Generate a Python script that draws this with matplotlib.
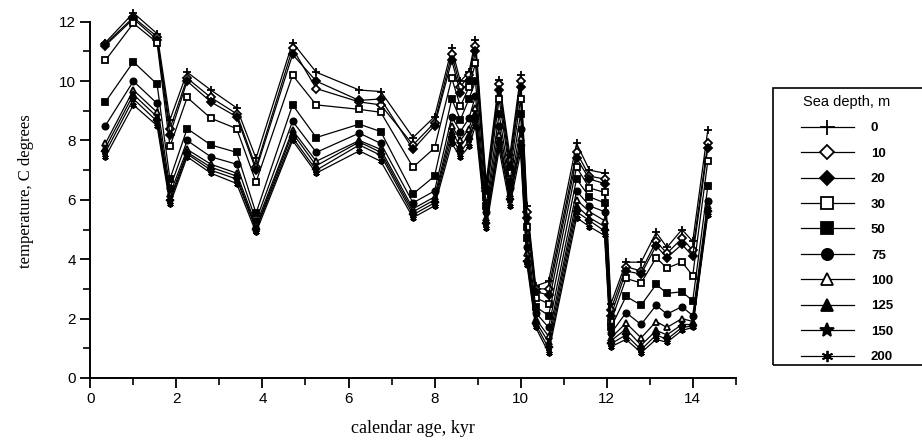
import numpy as np
import matplotlib
matplotlib.use("Agg")
import matplotlib.pyplot as plt
from matplotlib.patches import Rectangle

# calendar age, kyr (sample positions)
age = [0.35, 1.0, 1.55, 1.85, 2.25, 2.8, 3.4, 3.85, 4.7, 5.25, 6.25, 6.75, 7.5, 8.0,
       8.4, 8.6, 8.8, 8.95, 9.2, 9.5, 9.75, 10.0, 10.15, 10.35, 10.65, 11.3, 11.6, 11.95,
       12.1, 12.45, 12.8, 13.15, 13.4, 13.75, 14.0, 14.35]

depths = ['0', '10', '20', '30', '50', '75', '100', '125', '150', '200']

t_0 = [11.3, 12.3, 11.6, 8.7, 10.3, 9.7, 9.1, 7.4, 11.3, 10.3, 9.7, 9.65, 8.1, 8.8,
       11.1, 10.0, 10.3, 11.4, 6.6, 10.05, 7.5, 10.2, 5.8, 3.1, 3.25, 7.9, 7.0, 6.9,
       2.5, 3.9, 3.9, 4.9, 4.4, 5.0, 4.6, 8.35]
t_10 = [11.25, 12.15, 11.5, 8.4, 10.1, 9.45, 8.9, 7.1, 11.1, 9.75, 9.3, 9.2, 7.85, 8.6,
        10.9, 9.8, 10.2, 11.2, 6.4, 9.9, 7.3, 10.0, 5.6, 3.0, 3.0, 7.6, 6.8, 6.7,
        2.3, 3.75, 3.6, 4.6, 4.2, 4.7, 4.3, 7.9]
t_20 = [11.2, 12.1, 11.4, 8.2, 10.0, 9.3, 8.8, 7.0, 10.9, 10.0, 9.35, 9.4, 7.7, 8.5,
        10.7, 9.6, 10.0, 11.0, 6.3, 9.7, 7.1, 9.8, 5.4, 2.9, 2.8, 7.4, 6.7, 6.55,
        2.1, 3.6, 3.5, 4.45, 4.05, 4.5, 4.1, 7.75]
t_30 = [10.7, 11.95, 11.3, 7.8, 9.45, 8.75, 8.4, 6.6, 10.2, 9.2, 9.05, 8.95, 7.1, 7.75,
        10.1, 9.15, 9.8, 10.6, 6.1, 9.4, 6.9, 9.4, 5.1, 2.7, 2.5, 7.1, 6.4, 6.25,
        1.9, 3.35, 3.2, 4.05, 3.7, 3.9, 3.45, 7.3]
t_50 = [9.3, 10.65, 9.9, 6.7, 8.4, 7.85, 7.6, 5.55, 9.2, 8.1, 8.55, 8.3, 6.2, 6.8,
        9.4, 8.7, 9.4, 10.0, 5.8, 8.9, 6.6, 8.9, 4.7, 2.4, 2.1, 6.7, 6.1, 5.9,
        1.7, 2.75, 2.45, 3.15, 2.85, 2.9, 2.6, 6.45]
t_75 = [8.5, 10.0, 9.25, 6.4, 8.0, 7.45, 7.2, 5.3, 8.65, 7.6, 8.25, 7.9, 5.9, 6.3,
        8.8, 8.3, 8.75, 9.5, 5.6, 8.5, 6.4, 8.4, 4.4, 2.2, 1.7, 6.3, 5.8, 5.6,
        1.5, 2.2, 1.8, 2.45, 2.15, 2.4, 2.1, 5.95]
t_100 = [7.9, 9.7, 8.95, 6.2, 7.7, 7.2, 6.9, 5.15, 8.35, 7.3, 8.0, 7.7, 5.7, 6.1,
         8.5, 8.0, 8.4, 9.1, 5.4, 8.2, 6.2, 8.1, 4.2, 2.0, 1.4, 6.0, 5.6, 5.3,
         1.35, 1.85, 1.35, 1.9, 1.7, 2.0, 1.9, 5.8]
t_125 = [7.75, 9.55, 8.8, 6.05, 7.6, 7.1, 6.8, 5.05, 8.25, 7.15, 7.95, 7.6, 5.6, 6.0,
         8.3, 7.8, 8.2, 8.9, 5.3, 8.0, 6.1, 7.9, 4.0, 1.9, 1.2, 5.8, 5.4, 5.1,
         1.25, 1.65, 1.1, 1.6, 1.45, 1.8, 1.8, 5.7]
t_150 = [7.6, 9.4, 8.65, 5.95, 7.55, 7.0, 6.7, 5.0, 8.1, 7.0, 7.85, 7.5, 5.5, 5.9,
         8.1, 7.6, 8.0, 8.7, 5.2, 7.9, 6.0, 7.8, 3.9, 1.8, 1.0, 5.6, 5.3, 4.95,
         1.15, 1.45, 0.95, 1.45, 1.3, 1.7, 1.75, 5.6]
t_200 = [7.45, 9.2, 8.5, 5.85, 7.45, 6.9, 6.55, 4.9, 8.0, 6.9, 7.65, 7.3, 5.4, 5.8,
         7.9, 7.45, 7.8, 8.5, 5.05, 7.7, 5.8, 7.6, 3.8, 1.7, 0.85, 5.4, 5.1, 4.8,
         1.05, 1.3, 0.85, 1.3, 1.2, 1.6, 1.7, 5.5]

series = [t_0, t_10, t_20, t_30, t_50, t_75, t_100, t_125, t_150, t_200]

# marker style per depth: (marker, filled?)
styles = [('+', True), ('D', False), ('D', True), ('s', False), ('s', True),
          ('o', True), ('^', False), ('^', True), ('*', True), ((6, 2, 0), True)]

W, H = 922, 442
fig = plt.figure(figsize=(W / 100, H / 100), dpi=100)
# 0..12.6 deg so the 1 kyr peak pokes above the last tick like in the original
ax = fig.add_axes([0.098, 0.145, 0.70, 0.846])

handles = []
for vals, lab, (mk, filled) in zip(series, depths, styles):
    ms = 4.5
    if mk in ('*', '+'):
        ms = 6
    if mk == 'D':
        ms = 4
    h, = ax.plot(age, vals, color='black', lw=0.9, marker=mk, markersize=ms,
                 markerfacecolor='black' if filled else 'white',
                 markeredgecolor='black', markeredgewidth=1.3, label=lab)
    handles.append(h)

ax.set_xlim(0, 15)
ax.set_ylim(0, 12.6)
ax.spines['left'].set_bounds(0, 12)
ax.set_xticks(np.arange(0, 15, 2))
ax.set_xticks(np.arange(1, 16, 2), minor=True)
ax.set_yticks(np.arange(0, 13, 2))
ax.set_yticks(np.arange(1, 12, 2), minor=True)
for s in ['top', 'right']:
    ax.spines[s].set_visible(False)
for s in ['left', 'bottom']:
    ax.spines[s].set_linewidth(1.4)
ax.tick_params(which='major', direction='out', length=7, width=1.3, labelsize=11)
ax.tick_params(which='minor', direction='out', length=5, width=1.2)
for lbl in ax.get_xticklabels() + ax.get_yticklabels():
    lbl.set_family('Liberation Sans')

ax.set_xlabel('calendar age, kyr', family='Liberation Serif', fontsize=13, labelpad=10)
ax.set_ylabel('temperature, C degrees', family='Liberation Serif', fontsize=12, labelpad=18)

# legend box drawn separately so the entries can sit inset like the original
fig.patches.append(Rectangle((773 / W, 1 - 365 / H), (W + 5 - 773) / W, (365 - 88) / H,
                             transform=fig.transFigure, fill=False, ec='black', lw=1.2))
leg = fig.legend(handles=handles, loc='upper left', bbox_to_anchor=(797 / W, 1 - 91 / H),
                 title='Sea depth, m', frameon=False,
                 markerscale=1.8, handlelength=4.0, handletextpad=1.3, labelspacing=1.0,
                 prop={'family': 'Liberation Sans', 'size': 9.5, 'weight': 'bold'},
                 borderpad=0.3, borderaxespad=0)
leg.get_title().set_family('Liberation Sans')
leg.get_title().set_fontsize(10.5)

fig.savefig('out.png', dpi=100)
